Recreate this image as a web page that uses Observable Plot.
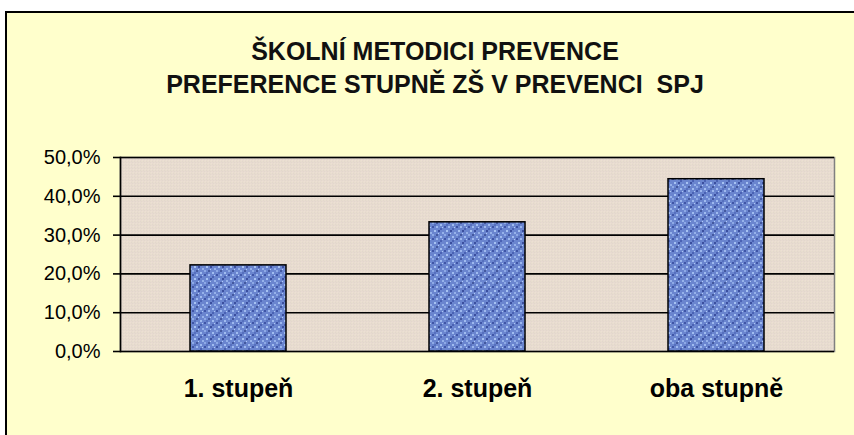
<!DOCTYPE html>
<html>
<head>
<meta charset="utf-8">
<script src="https://cdn.jsdelivr.net/npm/d3@7"></script>
<script src="https://cdn.jsdelivr.net/npm/@observablehq/plot@0.6"></script>
<style>
  html, body { margin: 0; padding: 0; background: #ffffff; width: 854px; height: 435px; overflow: hidden; }
  #frame { position: absolute; left: 5px; top: 11px; width: 870px; height: 440px;
           background: #FFFFCC; border-left: 2px solid #000; border-top: 2px solid #000; box-sizing: border-box; }
  #title { position: absolute; left: 0; top: 35px; width: 870px; text-align: center;
           font-family: "Liberation Sans", Arial, sans-serif; font-size: 25px; line-height: 33px; color: #111;
           font-weight: bold; letter-spacing: 0px; }
  #chart { position: absolute; left: 0; top: 130px; }
</style>
</head>
<body>
<div id="frame"></div>
<div id="title">ŠKOLNÍ METODICI PREVENCE<br>PREFERENCE STUPNĚ ZŠ V PREVENCI&nbsp; SPJ</div>
<div id="chart"></div>
<script>
const categories = ["1. stupeň", "2. stupeň", "oba stupně"];
const values = [22.2, 33.3, 44.4];
const yTicks = [0, 10, 20, 30, 40, 50];

const data = categories.map((c, i) => ({category: c, value: values[i]}));
const fmt = d => d.toFixed(1).replace(".", ",") + "%";

const svg = Plot.plot({
  width: 854,
  height: 280,
  marginTop: 27,
  marginBottom: 59,
  marginLeft: 120,
  marginRight: 20,
  style: {fontFamily: "'Liberation Sans', Arial, sans-serif", background: "transparent", overflow: "visible", color: "#000"},
  x: {domain: categories, paddingInner: 0.6, paddingOuter: 0.29, label: null},
  y: {domain: [0, 50], label: null},
  marks: [
    Plot.frame({fill: "url(#bgpat)", stroke: "#808080", strokeWidth: 1.5}),
    Plot.ruleY(yTicks, {stroke: "#000", strokeWidth: 1.6}),
    Plot.barY(data, {x: "category", y: "value", fill: "url(#barpat)", stroke: "#000", strokeWidth: 1.5}),
    Plot.frame({anchor: "left", stroke: "#000", strokeWidth: 1.6}),
    Plot.axisY({ticks: yTicks, tickSize: 7, tickPadding: 13, fontSize: 20, tickFormat: fmt, strokeWidth: 1.6}),
    Plot.axisX({tickSize: 0, tickPadding: 28, fontSize: 25, fontWeight: "bold"})
  ]
});

svg.insertAdjacentHTML("afterbegin", `
<defs>
  <pattern id="bgpat" patternUnits="userSpaceOnUse" width="3" height="3">
    <rect width="3" height="3" fill="#E5D6CE"/>
    <rect x="0" y="0" width="1" height="1" fill="#F4F1D4"/>
    <rect x="2" y="1" width="1" height="1" fill="#DCD8C6"/>
    <rect x="1" y="2" width="1" height="1" fill="#F0E6D8"/>
  </pattern>
  <pattern id="barpat" patternUnits="userSpaceOnUse" width="12" height="12">
    <rect width="12" height="12" fill="#6A85CF"/>
    <rect x="0" y="0" width="2" height="2" fill="#3F55A6"/>
    <rect x="4" y="0" width="2" height="2" fill="#9DB8EE"/>
    <rect x="8" y="2" width="2" height="2" fill="#4A62B4"/>
    <rect x="2" y="4" width="2" height="2" fill="#A6C2F2"/>
    <rect x="6" y="4" width="2" height="2" fill="#3B4F9E"/>
    <rect x="10" y="6" width="2" height="2" fill="#96B2EA"/>
    <rect x="0" y="8" width="2" height="2" fill="#8EAAE6"/>
    <rect x="4" y="8" width="2" height="2" fill="#44599F"/>
    <rect x="8" y="10" width="2" height="2" fill="#A0BCF0"/>
    <rect x="2" y="10" width="2" height="2" fill="#5670BE"/>
    <rect x="6" y="7" width="1" height="1" fill="#B4CCF6"/>
    <rect x="10" y="1" width="1" height="1" fill="#B0C8F4"/>
  </pattern>
</defs>`);

document.getElementById("chart").appendChild(svg);
</script>
</body>
</html>
